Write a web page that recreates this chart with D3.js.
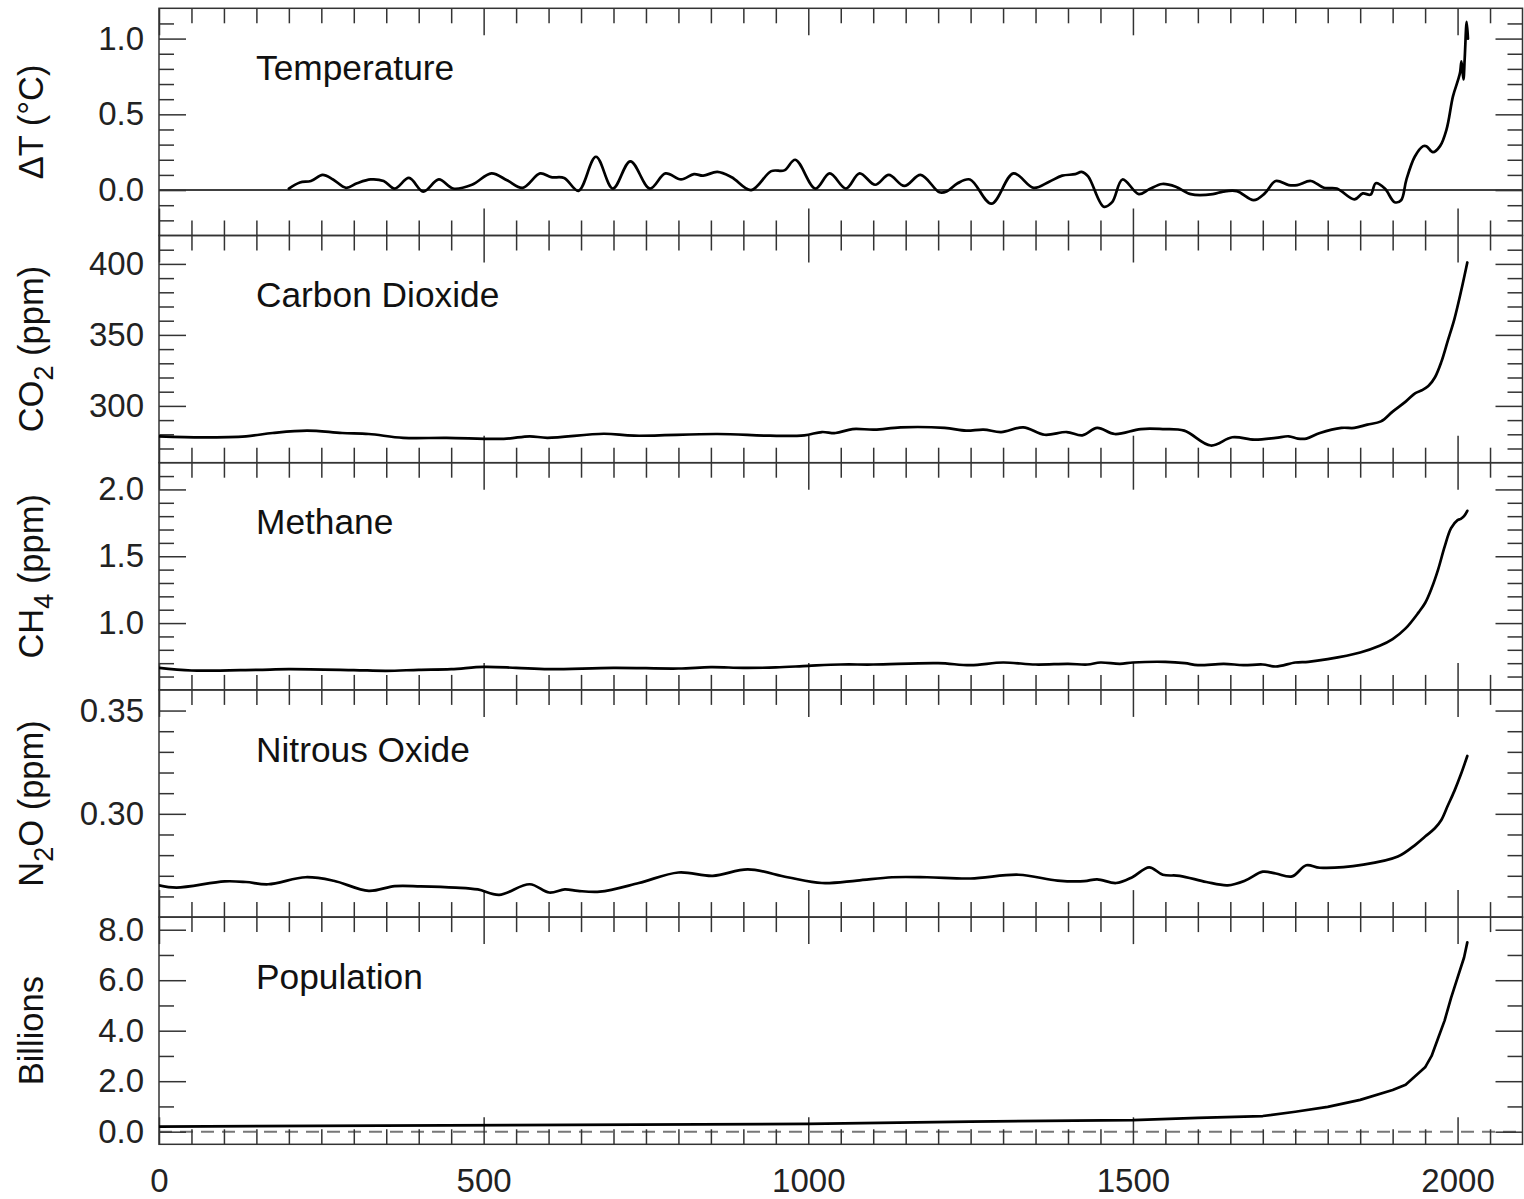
<!DOCTYPE html>
<html><head><meta charset="utf-8">
<script src="https://cdn.jsdelivr.net/npm/d3@7"></script>
<style>body{margin:0;background:#fff} svg{display:block}</style>
</head><body>
<svg id="c" width="1524" height="1199"></svg>
<script>
// ---------- DATA ----------
const xTickMajor = [0, 500, 1000, 1500, 2000];

const tempYears = [200,217,234,252,268,288,305,326,346,363,385,407,431,453,482,512,536,560,587,604,624,646,673,699,726,756,780,804,824,838,860,882,912,943,963,980,1011,1033,1058,1079,1103,1124,1148,1173,1202,1213,1230,1249,1282,1316,1347,1371,1391,1411,1421,1431,1455,1468,1484,1509,1525,1545,1566,1589,1623,1639,1660,1686,1703,1720,1740,1753,1774,1794,1814,1841,1854,1866,1874,1888,1903,1913,1921,1934,1947,1952,1962,1973,1983,1993,2001,2004,2006,2009,2011,2014,2016];
const tempVals = [0.01,0.05,0.06,0.10,0.07,0.015,0.045,0.07,0.06,0.01,0.08,-0.01,0.07,0.01,0.035,0.11,0.065,0.015,0.11,0.085,0.08,-0.005,0.22,0.01,0.19,0.01,0.11,0.07,0.105,0.095,0.12,0.085,0.0,0.125,0.13,0.20,0.01,0.11,0.01,0.11,0.035,0.10,0.027,0.10,-0.015,-0.01,0.045,0.07,-0.09,0.11,0.015,0.055,0.095,0.105,0.12,0.09,-0.11,-0.08,0.07,-0.027,0.005,0.04,0.022,-0.027,-0.027,-0.01,-0.007,-0.067,-0.022,0.06,0.033,0.033,0.06,0.015,0.01,-0.062,-0.022,-0.03,0.045,0.01,-0.08,-0.067,0.066,0.22,0.29,0.29,0.25,0.29,0.40,0.62,0.73,0.78,0.85,0.73,0.87,1.11,1.0];

const co2Years = [0,67,134,175,228,282,323,376,443,531,571,598,685,732,860,941,994,1021,1042,1068,1102,1142,1210,1243,1270,1297,1331,1364,1398,1422,1445,1472,1512,1546,1579,1620,1653,1687,1720,1740,1754,1767,1788,1821,1841,1861,1882,1900,1920,1935,1945,1955,1965,1975,1985,1995,2005,2015];
const co2Vals = [278.6,277.9,278.6,280.9,282.6,280.9,280.2,277.5,277.5,276.8,278.6,277.5,280.4,279.0,280.2,279.0,279.3,281.6,280.9,283.7,283.3,284.9,284.5,282.6,283.3,281.6,284.9,279.7,281.6,279.3,284.5,280.2,283.7,283.7,282.6,272.1,277.9,276.3,277.5,278.6,277.0,277.0,280.9,284.5,284.5,286.8,289.1,296,303,309,311,314,320,331,346,361,380,401];

const ch4Years = [0,50,150,200,300,350,400,450,500,550,600,700,800,850,900,950,1000,1050,1100,1200,1250,1300,1350,1400,1430,1450,1480,1500,1550,1580,1600,1640,1670,1700,1720,1750,1770,1800,1850,1880,1900,1920,1940,1950,1960,1970,1980,1990,2000,2005,2010,2015];
const ch4Vals = [0.665,0.645,0.650,0.655,0.648,0.643,0.650,0.655,0.672,0.665,0.655,0.665,0.660,0.670,0.665,0.668,0.680,0.690,0.690,0.700,0.685,0.705,0.690,0.695,0.690,0.705,0.695,0.705,0.710,0.700,0.685,0.695,0.685,0.690,0.675,0.705,0.710,0.730,0.780,0.830,0.880,0.960,1.08,1.15,1.26,1.40,1.57,1.71,1.77,1.78,1.80,1.84];

const n2oYears = [0,27,101,134,168,226,269,323,363,403,457,491,524,571,601,625,645,679,739,800,853,907,968,1021,1075,1129,1183,1250,1324,1384,1425,1445,1474,1499,1525,1546,1572,1613,1646,1673,1700,1720,1745,1767,1788,1855,1908,1935,1950,1965,1975,1985,1995,2005,2015];
const n2oVals = [0.2654,0.2643,0.2673,0.2670,0.2659,0.2693,0.2676,0.2627,0.2650,0.2649,0.2643,0.2634,0.2608,0.2659,0.2619,0.2634,0.2627,0.2623,0.2665,0.2716,0.2700,0.2731,0.2693,0.2665,0.2677,0.2693,0.2693,0.2687,0.2705,0.2677,0.2674,0.2683,0.2665,0.2693,0.2741,0.2705,0.2700,0.2670,0.2654,0.2677,0.2720,0.2711,0.2697,0.2751,0.2739,0.2754,0.2793,0.285,0.289,0.293,0.297,0.304,0.311,0.319,0.328];

const popYears = [0,1000,1250,1500,1600,1700,1750,1800,1850,1900,1920,1950,1960,1970,1980,1990,2000,2010,2015];
const popVals = [0.2,0.31,0.40,0.46,0.55,0.62,0.79,0.98,1.26,1.65,1.86,2.55,3.0,3.7,4.4,5.3,6.1,6.9,7.5];

const panelTitles = ["Temperature","Carbon Dioxide","Methane","Nitrous Oxide","Population"];
const yDomains = [[-0.3,1.2],[260,420],[0.5,2.2],[0.25,0.36],[-0.5,8.5]];
const yMajor = [[0,0.5,1.0],[300,350,400],[1.0,1.5,2.0],[0.30,0.35],[0,2,4,6,8]];
const yMinor = [
  [-0.2,-0.1,0.1,0.2,0.3,0.4,0.6,0.7,0.8,0.9,1.1],
  [270,280,290,310,320,330,340,360,370,380,390,410],
  [0.6,0.7,0.8,0.9,1.1,1.2,1.3,1.4,1.6,1.7,1.8,1.9,2.1],
  [0.26,0.27,0.28,0.29,0.31,0.32,0.33,0.34],
  [1,3,5,7]
];
const yFormats = [".1f",".0f",".1f",".2f",".1f"];

// ---------- LAYOUT ----------
const L = 159, R = 1522.5, T0 = 8.3, PH = 227.2;
const FONT = "'Liberation Sans', Arial, Helvetica, sans-serif";
const AX = "#333";
const svg = d3.select("#c");

const x = d3.scaleLinear().domain([0,2100]).range([L,R]);
const xMinorVals = d3.range(0, 2101, 50).filter(v => v % 500 !== 0 && v > 0 && v < 2100);

const series = [
  {years: tempYears, vals: tempVals, curve: d3.curveCatmullRom.alpha(0.5)},
  {years: co2Years, vals: co2Vals, curve: d3.curveCatmullRom.alpha(0.5)},
  {years: ch4Years, vals: ch4Vals, curve: d3.curveCatmullRom.alpha(0.5)},
  {years: n2oYears, vals: n2oVals, curve: d3.curveCatmullRom.alpha(0.5)},
  {years: popYears, vals: popVals, curve: d3.curveLinear}
];

function styleAxis(g){
  g.select(".domain").remove();
  g.selectAll(".tick line").attr("stroke", AX).attr("stroke-width", 1.5);
  g.selectAll(".tick text").attr("fill","#222").style("font-family",FONT).style("font-size","33px");
}

for (let i = 0; i < 5; i++) {
  const top = T0 + i*PH, bot = top + PH;
  const y = d3.scaleLinear().domain(yDomains[i]).range([bot, top]);
  const g = svg.append("g");

  const cid = "clip"+i;
  svg.append("clipPath").attr("id",cid).append("rect")
    .attr("x",L).attr("y",top).attr("width",R-L).attr("height",PH);

  if (i === 0) {
    g.append("line").attr("x1",L).attr("x2",R).attr("y1",y(0)).attr("y2",y(0))
      .attr("stroke","#000").attr("stroke-width",1.6);
  }
  if (i === 4) {
    g.append("line").attr("x1",L).attr("x2",R).attr("y1",y(0)).attr("y2",y(0))
      .attr("stroke","#777").attr("stroke-width",2).attr("stroke-dasharray","13,8");
  }

  g.append("g").attr("transform",`translate(${L},0)`)
    .call(d3.axisRight(y).tickValues(yMajor[i]).tickSize(27).tickFormat("")).call(styleAxis);
  g.append("g").attr("transform",`translate(${L},0)`)
    .call(d3.axisRight(y).tickValues(yMinor[i]).tickSize(15).tickFormat("")).call(styleAxis);
  g.append("g").attr("transform",`translate(${R},0)`)
    .call(d3.axisLeft(y).tickValues(yMajor[i]).tickSize(27).tickFormat("")).call(styleAxis);
  g.append("g").attr("transform",`translate(${R},0)`)
    .call(d3.axisLeft(y).tickValues(yMinor[i]).tickSize(15).tickFormat("")).call(styleAxis);
  g.append("g").attr("transform",`translate(${L},0)`)
    .call(d3.axisLeft(y).tickValues(yMajor[i]).tickSize(0).tickPadding(15).tickFormat(d3.format(yFormats[i])))
    .call(styleAxis);

  g.append("g").attr("transform",`translate(0,${top})`)
    .call(d3.axisBottom(x).tickValues(xTickMajor).tickSize(27).tickFormat("")).call(styleAxis);
  g.append("g").attr("transform",`translate(0,${top})`)
    .call(d3.axisBottom(x).tickValues(xMinorVals).tickSize(15).tickFormat("")).call(styleAxis);
  g.append("g").attr("transform",`translate(0,${bot})`)
    .call(d3.axisTop(x).tickValues(xTickMajor).tickSize(27).tickFormat("")).call(styleAxis);
  g.append("g").attr("transform",`translate(0,${bot})`)
    .call(d3.axisTop(x).tickValues(xMinorVals).tickSize(15).tickFormat("")).call(styleAxis);

  g.append("rect").attr("x",L).attr("y",top).attr("width",R-L).attr("height",PH)
    .attr("fill","none").attr("stroke",AX).attr("stroke-width",1.5);

  const s = series[i];
  const pts = s.years.map((yr,k)=>[yr, s.vals[k]]);
  g.append("path").datum(pts)
    .attr("clip-path",`url(#${cid})`)
    .attr("fill","none").attr("stroke","#000").attr("stroke-width",2.7)
    .attr("stroke-linejoin","round").attr("stroke-linecap","round")
    .attr("d", d3.line().x(d=>x(d[0])).y(d=>y(d[1])).curve(s.curve));

  g.append("text").attr("x",256).attr("y",top+71.7)
    .style("font-family",FONT).style("font-size","35.3px").attr("fill","#111")
    .text(panelTitles[i]);

  if (i === 4) {
    g.append("g").attr("transform",`translate(0,${bot})`)
      .call(d3.axisBottom(x).tickValues(xTickMajor).tickSize(0).tickPadding(23.8).tickFormat(d3.format("d")))
      .call(styleAxis);
  }

  const lab = g.append("text")
    .attr("transform",`translate(43,${(top+bot)/2}) rotate(-90)`)
    .attr("text-anchor","middle")
    .style("font-family",FONT).style("font-size","34.5px").attr("fill","#111");
  const sub = (t)=> lab.append("tspan").attr("baseline-shift","-38%").style("font-size","27px").text(t);
  const norm = (t)=> lab.append("tspan").text(t);
  if (i===0){ norm("\u0394T (\u00B0C)"); }
  else if (i===1){ norm("CO"); sub("2"); norm(" (ppm)"); }
  else if (i===2){ norm("CH"); sub("4"); norm(" (ppm)"); }
  else if (i===3){ norm("N"); sub("2"); norm("O (ppm)"); }
  else { norm("Billions"); }
}
</script>
</body></html>
